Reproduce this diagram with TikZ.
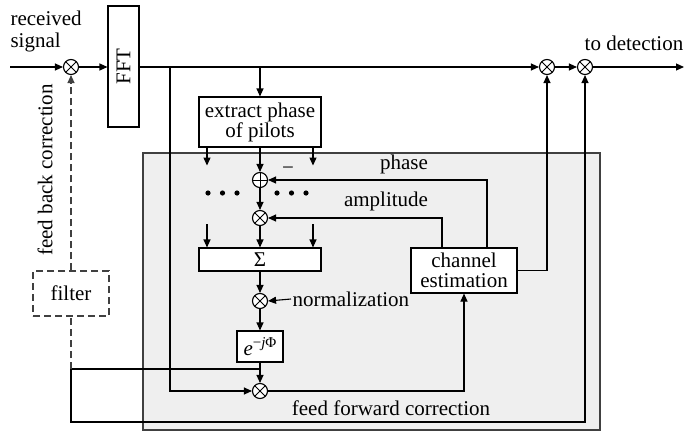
\documentclass[tikz,border=0pt]{standalone}
\usepackage{fontspec}
\setmainfont{Liberation Serif}
\usetikzlibrary{arrows.meta,calc}
\definecolor{panel}{HTML}{EFEFEF}
\definecolor{dgray}{HTML}{404040}
\tikzset{
  blk/.style={draw, fill=white, inner sep=0pt, align=center},
  mult/.style={circle, draw, fill=white, minimum size=15pt, inner sep=0pt,
    path picture={\draw[line width=0.9pt] (path picture bounding box.north west) -- (path picture bounding box.south east)
                  (path picture bounding box.north east) -- (path picture bounding box.south west);}},
  addc/.style={circle, draw, fill=white, minimum size=15pt, inner sep=0pt,
    path picture={\draw[line width=0.9pt] (path picture bounding box.north) -- (path picture bounding box.south)
                  (path picture bounding box.east) -- (path picture bounding box.west);}},
  lbl/.style={inner sep=1pt},
  dsh/.style={dash pattern=on 7pt off 4pt, draw=dgray},
}
\begin{document}
\begin{tikzpicture}[x=1pt, y=-1pt, line width=1.1pt,
  >={Triangle[length=8pt,width=7pt]},
  font=\fontsize{21}{24}\selectfont]
\useasboundingbox (0,0) rectangle (685,431);
% gray panel
\filldraw[fill=panel, draw=dgray, line width=1.4pt] (143,153) rectangle (600,430);

% main chain
\coordinate (in) at (10,67);
\node[mult] (m1) at (71,67) {};
\node[blk, minimum width=31pt, minimum height=121pt] (fft) at (123.5,66.5) {\rotatebox{90}{FFT}};
\node[mult] (m2) at (547,67) {};
\node[mult] (m3) at (585,67) {};
\coordinate (out) at (684,67);
\draw[->] (in) -- (m1.west);
\draw[->] (m1.east) -- (fft.west |- m1.east);
\draw[->] (fft.east |- m2.west) -- (m2.west);
\draw[->] (m2.east) -- (m3.west);
\draw[->] (m3.east) -- (out);

\node[lbl, anchor=west] (rx1) at (9,18) {received};
\node[lbl, anchor=west] (rx2) at (9,42) {signal};
\node[lbl] (todet) at (634,43) {to detection};

% pilot processing
\node[blk, minimum width=122pt, minimum height=50pt] (extract) at (260,122) {extract phase\\[-4pt]of pilots};
\coordinate (b2) at (260,67);
\draw[->] (b2) -- (extract.north);

\node[addc] (add) at (260,180) {};
\node[mult] (mul) at (260,218) {};
\node[blk, minimum width=122pt, minimum height=23pt] (sigma) at (260,259.5) {Σ};
\node[mult] (nmul) at (260,301) {};
\node[blk, minimum width=46pt, minimum height=31pt] (ejp) at (260,346.5)
  {\textit{e}\raisebox{8pt}{\fontsize{15}{15}\selectfont −\textit{j}Φ}};
\node[mult] (m6) at (260,391) {};

\draw[->] (extract.south) -- (add.north);
\draw[->] ([xshift=-53pt]extract.south) -- ++(0,18);
\draw[->] ([xshift=53pt]extract.south) -- ++(0,18);
\draw[->] (add.south) -- (mul.north);
\draw[->] (mul.south) -- (sigma.north);
\draw[->] ([xshift=-53pt]sigma.north) ++(0,-23) -- ++(0,23);
\draw[->] ([xshift=53pt]sigma.north) ++(0,-23) -- ++(0,23);
\draw[->] (sigma.south) -- (nmul.north);
\draw[->] (nmul.south) -- (ejp.north);
\draw[->] (ejp.south) -- (m6.north);

\foreach \x in {208,222.5,237,277,291.5,306} \fill (\x,193) circle (2.6pt);
\node[lbl, inner sep=0pt] (minus) at (288,171) {−};

\node[lbl, anchor=west] (norm) at (291,299) {normalization};
\draw[->] (norm.west) -- (nmul.east);

% channel estimation
\node[blk, minimum width=106pt, minimum height=45pt] (chest) at (464,270.5) {channel\\[-4pt]estimation};
\draw[->] ([xshift=23pt]chest.north) |- (add.east);
\draw[->] ([xshift=-22pt]chest.north) |- (mul.east);
\node[lbl] (phase) at (404,164) {phase};
\node[lbl] (ampl) at (386,201) {amplitude};
\draw[->] (chest.east) -| (m2.south);
\draw[->] (m6.east) -| (chest.south);

% FFT branch to bottom multiplier
\coordinate (b1) at (170,67);
\draw[->] (b1) |- (m6.west);

% filter / feedback and feedforward
\node[blk, dsh, minimum width=76pt, minimum height=45pt] (filter) at (71,293.5) {filter};
\coordinate (j1) at (260,369);
\coordinate (j2) at (71,369);
\draw (j1) -- (j2);
\draw[dsh] (j2) -- (filter.south);
\draw[dsh, ->] (filter.north) -- (m1.south);
\draw[->] (j2) -- (71,422) -| (m3.south);

\node[lbl, rotate=90] (fbc) at (45,170) {feed back correction};
\node[lbl] (ffc) at (391,408) {feed forward correction};
\end{tikzpicture}
\end{document}
